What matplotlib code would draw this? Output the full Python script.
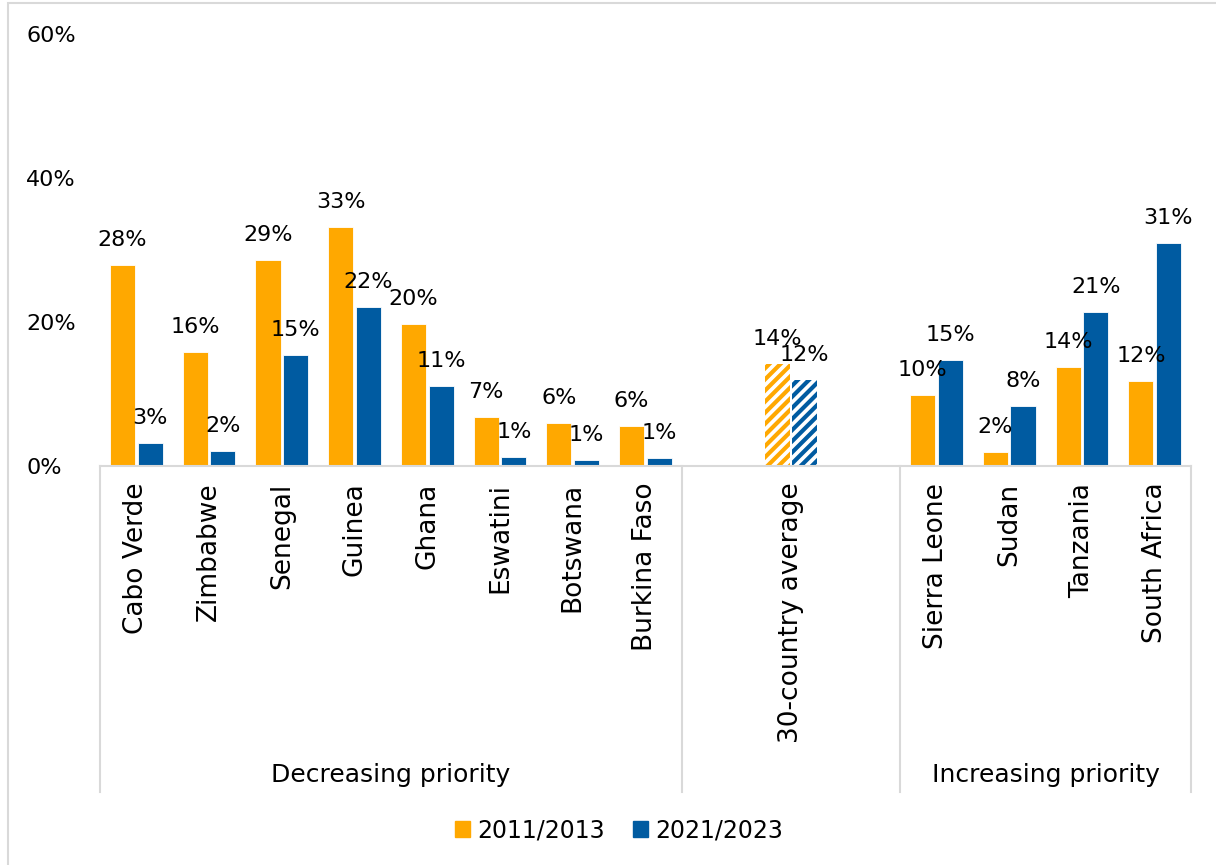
import numpy as np
import matplotlib.pyplot as plt
from matplotlib.patches import Rectangle
from matplotlib.transforms import blended_transform_factory

plt.rcParams['font.family'] = ['DejaVu Sans']
plt.rcParams['hatch.linewidth'] = 3.0

# data
countries = ['Cabo Verde', 'Zimbabwe', 'Senegal', 'Guinea', 'Ghana', 'Eswatini',
             'Botswana', 'Burkina Faso', '', '30-country average', '',
             'Sierra Leone', 'Sudan', 'Tanzania', 'South Africa']
v_2011 = [27.9, 15.8, 28.6, 33.2, 19.7, 6.8, 6.0, 5.6, None, 14.2, None, 9.9, 1.9, 13.8, 11.8]
v_2021 = [3.2, 2.1, 15.4, 22.1, 11.1, 1.25, 0.8, 1.1, None, 11.9, None, 14.7, 8.3, 21.4, 31.0]
groups = ['Decreasing priority', '', 'Increasing priority']
group_edges = [-0.5, 7.5, 10.5, 14.5]
avg_idx = 9

orange = '#FFA800'
blue = '#005BA1'
grey = '#D9D9D9'

fig = plt.figure(figsize=(12.16, 8.65), dpi=100)
ax = fig.add_axes([100 / 1216, 1 - 466 / 865, (1191 - 100) / 1216, (466 - 34) / 865])

x = np.arange(len(countries))
w = 0.345
off = 0.19

for i in range(len(countries)):
    if v_2011[i] is None:
        continue
    for val, c, dx in [(v_2011[i], orange, -off), (v_2021[i], blue, off)]:
        if i == avg_idx:
            ax.bar(x[i] + dx, val, w, facecolor='white', edgecolor=c, hatch='///', linewidth=0)
        else:
            ax.bar(x[i] + dx, val, w, color=c, edgecolor='white', linewidth=0.6)
        ax.annotate(f'{round(val)}%', (x[i] + dx, val), xytext=(0, 18),
                    textcoords='offset points', ha='center', va='center', fontsize=16)

ax.set_xlim(-0.5, 14.5)
ax.set_ylim(0, 60)
ax.set_yticks([0, 20, 40, 60])
ax.set_yticklabels(['0%', '20%', '40%', '60%'], fontsize=16)
for lbl in ax.get_yticklabels():
    lbl.set_horizontalalignment('left')
ax.tick_params(axis='y', length=0, pad=53)

ax.set_xticks(x)
ax.set_xticklabels(countries, rotation=90, fontsize=19, va='top', ha='center')
ax.tick_params(axis='x', length=0, pad=12)

for s in ['top', 'right', 'left']:
    ax.spines[s].set_visible(False)
ax.spines['bottom'].set_color(grey)
ax.spines['bottom'].set_linewidth(1.5)

# group separators and group labels
trans = blended_transform_factory(ax.transData, ax.transAxes)
for e in group_edges:
    ax.plot([e, e], [0, -0.755], color=grey, lw=1.5, transform=trans, clip_on=False)
for k, g in enumerate(groups):
    mid = (group_edges[k] + group_edges[k + 1]) / 2
    ax.text(mid, -0.715, g, transform=trans, ha='center', va='center', fontsize=18)

# legend
h1 = Rectangle((0, 0), 1, 1, color=orange)
h2 = Rectangle((0, 0), 1, 1, color=blue)
fig.legend([h1, h2], ['2011/2013', '2021/2023'], loc='center', bbox_to_anchor=(619 / 1216, 1 - 830 / 865),
           ncol=2, frameon=False, fontsize=17, handlelength=0.65, handleheight=0.65,
           handletextpad=0.3, columnspacing=1.2)

# chart border
fig.patches.append(Rectangle((8 / 1216, -0.1), 1.2, 1 - 3 / 865 + 0.1, transform=fig.transFigure,
                             fill=False, edgecolor=grey, lw=1.5))

fig.savefig('out.png', dpi=100)
